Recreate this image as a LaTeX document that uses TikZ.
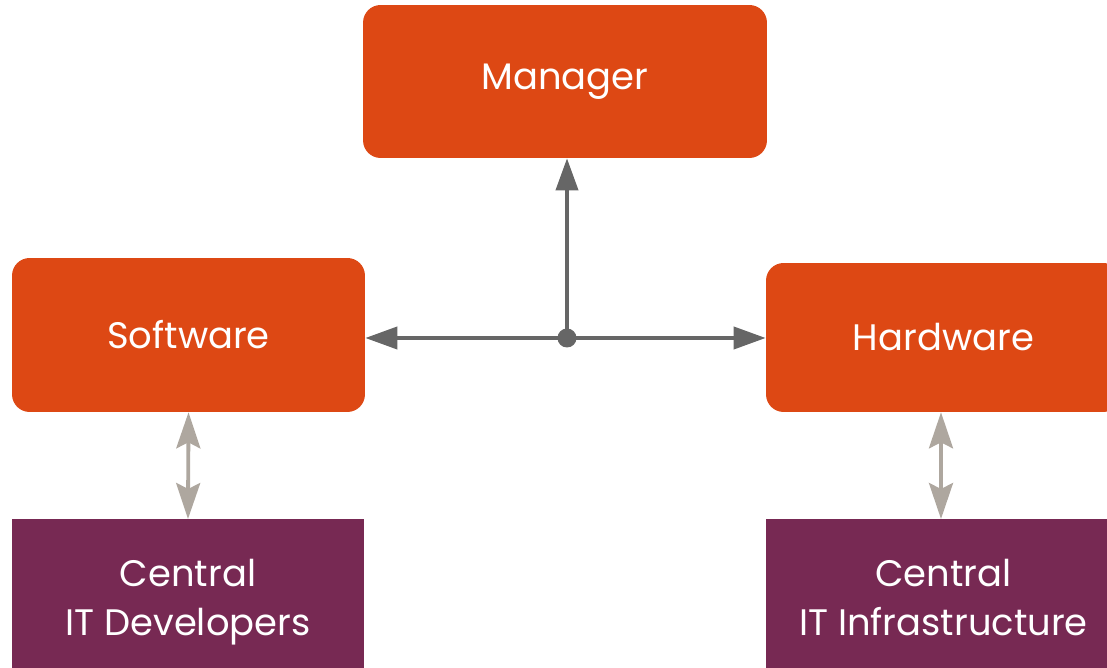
\documentclass[tikz,border=0pt]{standalone}
\usepackage{fontspec}
\setmainfont{Poppins}
\usetikzlibrary{positioning, arrows.meta, calc}
\definecolor{teamorange}{RGB}{221,72,20}
\definecolor{centralpurple}{RGB}{119,41,83}
\definecolor{linkgray}{RGB}{102,102,102}
\definecolor{supportgray}{RGB}{174,167,159}

\begin{document}
\begin{tikzpicture}[x=0.02cm, y=-0.02cm,
    teambox/.style={rectangle, rounded corners=10pt, fill=teamorange, text=white, align=center, font=\fontsize{21}{28}\selectfont},
    centralbox/.style={rectangle, fill=centralpurple, text=white, align=center, font=\fontsize{21}{28}\selectfont},
    link/.style={-{Triangle[length=0.64cm, width=0.44cm]}, line width=2.2pt, draw=linkgray},
    support/.style={{Stealth[length=0.72cm, width=0.48cm, inset=0.12cm]}-{Stealth[length=0.72cm, width=0.48cm, inset=0.12cm]}, line width=2.2pt, draw=supportgray}
]
    \useasboundingbox (0,0) rectangle (1107,668);

    % === Équipe : Manager ===
    \node[teambox, minimum width=8.08cm, minimum height=3.06cm] (manager) at (565,81.5) {Manager};

    % === Équipe : Software / Hardware ===
    \node[teambox, minimum width=7.06cm, minimum height=3.08cm] (software) at (188.5,335) {Software};
    \node[teambox, minimum width=7.1cm, minimum height=2.98cm] (hardware) at (943.5,337.5) {Hardware};

    % === Services centraux ===
    \node[centralbox, minimum width=7.04cm, minimum height=3.4cm, anchor=north] (developers) at (188,519) {Central\\IT Developers\strut};
    \node[centralbox, minimum width=7.1cm, minimum height=3.4cm, anchor=north] (infrastructure) at (943.5,519) {Central\\IT Infrastructure\strut};

    % === Liaisons ===
    \coordinate (hub) at (567,338);
    \draw[link] (hub) -- (manager.south -| hub);
    \draw[link] (hub) -- (software.east |- hub);
    \draw[link] (hub) -- (hardware.west |- hub);
    \fill[linkgray] (hub) circle (0.19cm);

    % === Support ===
    \draw[support] (software.south) -- (developers.north);
    \draw[support] (infrastructure.north -| 941,0) -- (hardware.south -| 941,0);

\end{tikzpicture}
\end{document}
